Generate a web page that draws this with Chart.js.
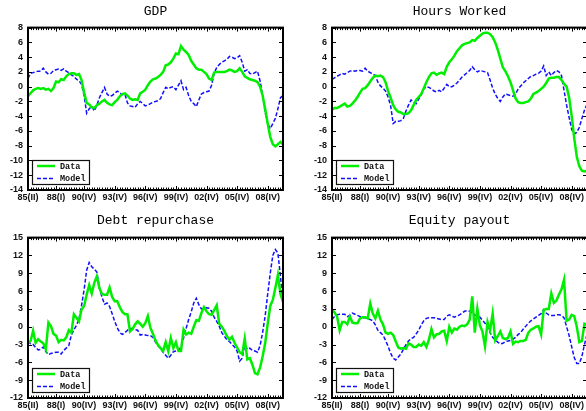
<!DOCTYPE html>
<html>
<head>
<meta charset="utf-8">
<script src="https://cdn.jsdelivr.net/npm/chart.js@4.4.1/dist/chart.umd.min.js"></script>
<style>
  html, body { margin: 0; padding: 0; background: #fff; overflow: hidden; width: 586px; height: 411px; }
  canvas { position: absolute; }
</style>
</head>
<body>
<canvas id="gdp" width="295" height="205" style="left:0;top:0"></canvas>
<canvas id="hours" width="295" height="205" style="left:304px;top:0"></canvas>
<canvas id="debt" width="295" height="206" style="left:0;top:205px"></canvas>
<canvas id="equity" width="295" height="206" style="left:304px;top:205px"></canvas>
<script>
// Quarterly sample, 1985Q2 .. 2010Q2
const quarters = [];
for (let yr = 1985, q = 2; quarters.length < 101; ) {
  quarters.push(yr + 'Q' + q);
  q++; if (q > 4) { q = 1; yr++; }
}

const tickLabels = ['85(II)', '88(I)', '90(IV)', '93(IV)', '96(IV)', '99(IV)', '02(IV)', '05(IV)', '08(IV)'];

// Percent deviations, one value per quarter
const gdpData = [
  -1.3,-0.9,-0.5,-0.3,-0.2,-0.3,-0.2,-0.4,-0.3,-0.6,
  -0.2,0.7,0.6,1.0,0.9,1.4,1.7,1.8,1.8,1.6,
  1.7,0.9,-0.8,-2.2,-2.4,-2.8,-2.9,-2.5,-2.3,-2.0,
  -1.8,-2.2,-2.4,-2.5,-2.1,-1.8,-1.3,-1.0,-0.9,-1.2,
  -1.6,-1.8,-1.7,-1.8,-0.9,-0.7,-0.4,0.2,0.7,1.0,
  1.1,1.3,1.6,2.0,2.9,3.0,3.3,3.8,4.5,4.4,
  5.5,5.0,4.7,4.3,3.5,3.0,2.5,2.3,2.3,2.0,
  1.7,1.1,0.9,1.9,2.0,2.0,2.0,2.0,2.1,2.3,
  2.2,2.0,2.1,2.5,2.0,1.4,1.2,1.0,0.9,0.8,
  0.6,0.0,-1.2,-3.0,-5.0,-6.8,-7.8,-8.1,-7.8,-7.5,
  -7.8
];
const gdpModel = [
  1.1,1.8,1.9,2.0,2.1,2.1,2.5,2.0,1.7,1.8,
  2.2,2.3,2.4,2.2,2.4,2.1,1.9,1.6,1.4,1.0,
  0.8,0.3,-1.2,-3.6,-3.0,-2.7,-3.3,-2.5,-1.5,-0.8,
  -0.1,-1.0,-1.3,-1.2,-0.9,-0.6,-0.8,-1.1,-1.0,-2.2,
  -2.6,-2.7,-2.8,-2.3,-2.0,-2.3,-2.6,-2.5,-2.3,-2.1,
  -2.0,-1.9,-1.6,-0.8,-0.1,-0.3,-0.1,0.0,-0.4,0.2,
  0.8,-0.4,-0.1,-1.2,-2.0,-2.3,-2.7,-1.8,-1.0,-0.8,
  -0.7,-0.6,0.2,1.8,2.6,3.0,3.3,3.5,3.7,4.1,
  4.0,3.8,3.9,4.2,3.3,2.1,2.3,1.8,1.7,1.9,
  2.1,0.8,-1.2,-3.5,-5.0,-5.7,-5.0,-4.3,-3.0,-1.5,
  -1.2
];
const hoursData = [
  -3.1,-2.9,-2.9,-2.7,-2.5,-2.3,-2.7,-2.6,-2.3,-1.9,
  -1.4,-0.8,-0.3,-0.2,0.2,0.7,1.2,1.5,1.4,1.5,
  1.3,0.6,-0.6,-1.5,-2.5,-3.1,-3.4,-3.5,-3.7,-3.7,
  -3.6,-3.2,-2.5,-1.8,-1.4,-1.0,-0.2,0.6,1.3,1.8,
  1.9,1.6,1.8,1.9,1.7,2.7,3.3,3.7,4.2,4.8,
  5.2,5.6,5.8,5.9,6.0,6.3,6.2,6.6,6.9,7.2,
  7.3,7.3,7.1,6.7,6.0,5.0,3.8,2.6,2.1,1.4,
  0.6,-0.5,-1.6,-2.1,-2.2,-2.2,-2.1,-2.0,-1.6,-1.0,
  -0.8,-0.6,-0.3,0.0,0.5,1.1,1.2,1.2,1.3,1.3,
  0.9,0.4,0.0,-1.5,-4.0,-7.0,-9.5,-10.8,-11.4,-11.5,
  -11.4
];
const hoursModel = [
  1.0,1.2,1.4,1.6,1.8,1.7,1.9,2.1,2.2,2.1,
  2.2,2.2,2.1,2.5,2.1,1.9,1.7,1.5,0.6,0.1,
  -0.2,-0.6,-1.4,-2.6,-5.0,-4.7,-4.7,-4.6,-4.3,-3.3,
  -2.5,-1.8,-2.1,-2.3,-1.7,-1.1,-0.3,0.0,-0.1,-0.3,
  -0.6,-0.7,-0.5,-0.7,-0.2,0.3,0.0,0.0,0.2,0.5,
  0.9,1.3,1.6,1.9,2.2,2.7,2.3,2.0,2.2,2.1,
  2.0,1.9,0.9,-0.2,-1.0,-1.6,-2.0,-1.4,-1.0,-1.1,
  -1.2,-1.3,-1.0,-0.3,0.1,0.5,0.8,1.1,1.4,1.5,
  1.7,1.8,2.1,2.8,1.5,2.0,1.5,1.9,2.2,2.0,
  1.5,-0.5,-2.5,-4.2,-5.8,-6.4,-6.2,-5.5,-4.3,-3.2,
  -2.4
];
const debtData = [
  -2.7,-2.4,-0.7,-2.7,-2.1,-2.5,-2.8,-3.8,0.7,0.1,
  -1.2,-1.5,-2.6,-2.2,-2.3,-1.8,-0.6,-1.0,2.1,1.5,
  0.9,2.9,3.5,5.4,7.0,5.6,7.4,8.5,6.5,5.5,
  5.4,5.4,6.6,5.0,4.3,4.3,3.3,2.5,2.1,2.1,
  -0.8,-0.4,0.4,0.9,0.5,0.0,0.6,1.8,-0.2,-1.2,
  -2.3,-3.1,-3.6,-4.1,-2.6,-4.1,-1.9,-3.6,-2.6,-4.1,
  -4.1,-0.5,-1.3,-1.0,-1.2,0.0,1.1,1.0,2.3,3.3,
  2.6,2.1,2.0,2.8,3.6,0.5,0.0,-0.7,-1.6,-2.2,
  -1.7,-2.7,-3.5,-4.3,-4.6,-2.0,-5.5,-5.3,-6.4,-7.8,
  -8.0,-6.9,-5.0,-2.8,0.5,3.5,4.5,6.5,8.7,5.5,
  4.2
];
const debtModel = [
  -2.4,-2.9,-3.0,-3.5,-3.9,-3.8,-3.4,-4.2,-4.7,-4.5,
  -4.4,-4.3,-4.3,-4.6,-4.0,-3.6,-3.2,-1.4,-0.5,0.2,
  1.3,3.6,6.2,9.5,10.8,10.1,9.7,9.2,6.6,5.0,
  3.8,4.0,3.4,2.2,0.9,-0.2,-1.0,-1.3,-1.0,-0.6,
  -0.3,-0.3,-0.5,-0.6,-1.4,-1.3,-1.4,-1.5,-1.5,-1.8,
  -2.6,-3.2,-3.7,-4.3,-4.8,-5.3,-4.8,-4.2,-4.1,-4.0,
  -3.4,-1.9,-0.3,1.2,2.5,4.0,4.8,3.7,3.0,3.1,
  3.2,3.1,2.6,1.6,0.9,0.1,-1.0,-1.6,-2.2,-2.5,
  -3.0,-3.4,-4.1,-5.8,-5.3,-3.1,-3.8,-3.6,-4.0,-4.1,
  -4.3,-3.2,-1.0,1.8,5.5,9.0,12.0,13.0,12.4,8.5,
  4.0
];
const equityData = [
  2.9,2.4,1.7,-0.6,0.8,0.8,0.4,1.7,0.7,0.6,
  0.6,1.4,1.6,1.6,1.4,3.9,2.2,1.4,2.7,1.2,
  0.4,-1.0,-1.2,-1.0,-1.4,-2.5,-3.5,-3.7,-3.6,-3.7,
  -2.8,-3.0,-3.4,-3.4,-3.0,-3.2,-2.6,-3.4,-2.2,-0.4,
  -1.8,-1.3,-1.2,-0.8,-0.7,-2.4,0.0,-1.0,-0.3,-0.5,
  0.0,0.2,0.1,0.4,1.2,5.1,-1.0,3.0,0.2,-0.8,
  -3.3,0.8,-0.6,2.2,-2.3,-1.6,-0.8,-1.9,-2.1,-1.9,
  -0.8,-2.9,-2.5,-2.6,-2.4,-2.4,-2.2,-1.0,-0.5,-0.3,
  0.0,0.1,-1.3,2.8,3.0,3.0,5.6,4.0,4.4,5.4,
  6.3,7.9,1.0,1.2,2.0,1.8,0.0,-2.6,-2.4,0.5,
  0.3
];
const equityModel = [
  1.2,1.7,2.0,2.1,2.1,2.1,1.7,1.9,2.3,2.1,
  1.9,1.7,1.5,1.5,1.4,1.2,1.0,0.3,-0.6,-1.0,
  -1.4,-2.3,-3.3,-4.5,-5.3,-5.6,-5.1,-4.6,-3.8,-3.0,
  -2.4,-2.0,-1.8,-1.2,-0.6,0.3,1.0,1.4,1.5,1.5,
  1.5,1.4,1.3,1.2,1.2,1.8,2.0,1.8,1.6,1.8,
  2.0,2.3,2.6,2.7,2.6,2.3,2.0,1.8,1.6,1.1,
  0.6,0.0,-1.0,-1.8,-2.2,-2.6,-2.9,-2.8,-2.5,-2.4,
  -2.3,-2.1,-1.8,-1.3,-1.0,-0.4,0.1,0.6,1.0,1.3,
  1.6,1.9,2.2,2.9,2.3,2.0,1.9,1.9,2.0,2.0,
  1.9,1.5,0.0,-1.5,-3.4,-5.2,-6.2,-6.2,-5.0,-3.0,
  -1.3
];

// Position of each tick label on the quarter axis, parsed from its text
const roman = { I: 1, II: 2, III: 3, IV: 4 };
const tickIndex = tickLabels.map(s => {
  const yy = parseInt(s.slice(0, 2), 10);
  const year = yy < 50 ? 2000 + yy : 1900 + yy;
  const q = roman[s.slice(3, -1)];
  return quarters.indexOf(year + 'Q' + q);
});

const INK = '#111';
const tickFont = { family: 'Liberation Sans', size: 9, weight: 'bold' };

// Boxed axes with inward tick marks, plus the boxed legend in the lower-left corner
const framePlugin = {
  id: 'frame',
  afterDatasetsDraw(chart) {
    const { ctx, chartArea: a, scales: { x, y } } = chart;
    ctx.save();
    ctx.strokeStyle = '#000';
    ctx.lineWidth = 1;
    ctx.beginPath();
    for (let q = x.min; q <= x.max; q++) {
      const px = Math.round(x.getPixelForValue(q)) + 0.5;
      const len = tickIndex.includes(q) ? 4 : 2.5;
      ctx.moveTo(px, a.bottom); ctx.lineTo(px, a.bottom - len);
      ctx.moveTo(px, a.top); ctx.lineTo(px, a.top + len);
    }
    y.ticks.forEach(t => {
      const py = Math.round(y.getPixelForValue(t.value)) + 0.5;
      ctx.moveTo(a.left, py); ctx.lineTo(a.left + 4, py);
      ctx.moveTo(a.right, py); ctx.lineTo(a.right - 4, py);
    });
    ctx.stroke();
    ctx.lineWidth = 2;
    ctx.strokeRect(a.left, a.top, a.right - a.left, a.bottom - a.top);

    // legend
    const bx = a.left + 4, bw = 57, bh = 24, by = a.bottom - 6 - bh;
    ctx.fillStyle = '#fff';
    ctx.fillRect(bx, by, bw, bh);
    ctx.lineWidth = 1.2;
    ctx.strokeStyle = '#111';
    ctx.strokeRect(bx + 0.5, by + 0.5, bw, bh);
    ctx.font = 'bold 8.5px "Liberation Mono"';
    ctx.textBaseline = 'middle';
    chart.data.datasets.forEach((ds, i) => {
      const ly = by + 6 + i * 12.5;
      ctx.strokeStyle = ds.borderColor;
      ctx.lineWidth = ds.borderWidth;
      ctx.setLineDash(ds.borderDash || []);
      ctx.beginPath();
      ctx.moveTo(bx + 5, ly); ctx.lineTo(bx + 23, ly);
      ctx.stroke();
      ctx.setLineDash([]);
      ctx.fillStyle = INK;
      ctx.fillText(ds.label, bx + 28, ly + 0.5);
    });
    ctx.restore();
  }
};

function panel(id, title, dataVals, modelVals, yMin, yMax, yStep, titlePad, xHeight) {
  new Chart(document.getElementById(id), {
    type: 'line',
    data: {
      datasets: [
        { label: 'Data', data: dataVals.map((v, i) => ({ x: i, y: v })),
          borderColor: '#00ee00', borderWidth: 2.5, pointRadius: 0, tension: 0 },
        { label: 'Model', data: modelVals.map((v, i) => ({ x: i, y: v })),
          borderColor: '#1010ff', borderWidth: 1.5, borderDash: [4, 2], pointRadius: 0, tension: 0 }
      ]
    },
    options: {
      responsive: false,
      animation: false,
      devicePixelRatio: 1,
      layout: { padding: { left: 0, right: 12, top: 0, bottom: 0 } },
      plugins: {
        legend: { display: false },
        tooltip: { enabled: false },
        title: {
          display: true, text: title, fullSize: false, color: '#000',
          font: { family: 'Liberation Mono', size: 13, weight: 'normal' },
          padding: titlePad
        }
      },
      scales: {
        x: {
          type: 'linear', min: 0, max: quarters.length - 1,
          grid: { display: false, drawTicks: false },
          border: { display: false },
          afterBuildTicks: s => { s.ticks = tickIndex.map(v => ({ value: v })); },
          afterFit: s => { s.height = xHeight; },
          ticks: {
            autoSkip: false, maxRotation: 0, minRotation: 0, padding: 2, color: INK, font: tickFont,
            callback: v => tickLabels[tickIndex.indexOf(v)]
          }
        },
        y: {
          min: yMin, max: yMax,
          grid: { display: false, drawTicks: false },
          border: { display: false },
          afterFit: s => { s.width = 28; },
          ticks: { stepSize: yStep, padding: 5, color: INK, font: tickFont }
        }
      }
    },
    plugins: [framePlugin]
  });
}

panel('gdp', 'GDP', gdpData, gdpModel, -14, 8, 2, { top: 4, bottom: 8 }, 15);
panel('hours', 'Hours Worked', hoursData, hoursModel, -14, 8, 2, { top: 4, bottom: 8 }, 15);
panel('debt', 'Debt repurchase', debtData, debtModel, -12, 15, 3, { top: 8, bottom: 9 }, 13);
panel('equity', 'Equity payout', equityData, equityModel, -12, 15, 3, { top: 8, bottom: 9 }, 13);
</script>
</body>
</html>
